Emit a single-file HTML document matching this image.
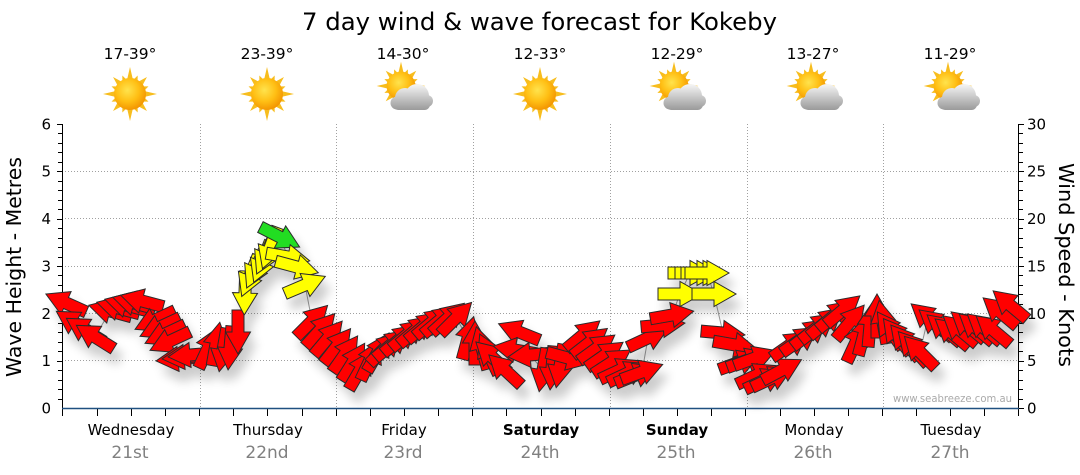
<!DOCTYPE html>
<html><head><meta charset="utf-8"><style>html,body{margin:0;padding:0;background:#fff;}svg{display:block;}</style></head>
<body>
<svg width="1080" height="475" viewBox="0 0 1080 475" xmlns="http://www.w3.org/2000/svg" font-family="'DejaVu Sans', Verdana, sans-serif">
<defs>
 <radialGradient id="sung" cx="0.42" cy="0.38" r="0.65"><stop offset="0" stop-color="#ffe34d"/><stop offset="0.55" stop-color="#ffbf14"/><stop offset="1" stop-color="#f29200"/></radialGradient>
 <linearGradient id="cloudg" gradientUnits="userSpaceOnUse" x1="0" y1="-2" x2="0" y2="24"><stop offset="0" stop-color="#f6f6f6"/><stop offset="1" stop-color="#9a9a9a"/></linearGradient>
 <g id="rays" fill="#f7bd1e">
  <polygon points="-3,-14 0,-27 3,-14"/>
  <polygon points="-2.5,-14 0,-20 2.5,-14" transform="rotate(22.5)"/>
  <polygon points="-3,-14 0,-24 3,-14" transform="rotate(45)"/>
  <polygon points="-2.5,-14 0,-20 2.5,-14" transform="rotate(67.5)"/>
  <polygon points="-3,-14 0,-27 3,-14" transform="rotate(90)"/>
  <polygon points="-2.5,-14 0,-20 2.5,-14" transform="rotate(112.5)"/>
  <polygon points="-3,-14 0,-24 3,-14" transform="rotate(135)"/>
  <polygon points="-2.5,-14 0,-20 2.5,-14" transform="rotate(157.5)"/>
  <polygon points="-3,-14 0,-27 3,-14" transform="rotate(180)"/>
  <polygon points="-2.5,-14 0,-20 2.5,-14" transform="rotate(202.5)"/>
  <polygon points="-3,-14 0,-24 3,-14" transform="rotate(225)"/>
  <polygon points="-2.5,-14 0,-20 2.5,-14" transform="rotate(247.5)"/>
  <polygon points="-3,-14 0,-27 3,-14" transform="rotate(270)"/>
  <polygon points="-2.5,-14 0,-20 2.5,-14" transform="rotate(292.5)"/>
  <polygon points="-3,-14 0,-24 3,-14" transform="rotate(315)"/>
  <polygon points="-2.5,-14 0,-20 2.5,-14" transform="rotate(337.5)"/>
 </g>
 <g id="sun"><use href="#rays"/><circle r="16" fill="url(#sung)"/></g>
 <g id="pc">
  <g transform="translate(-3,0) scale(0.9)"><use href="#sun"/></g>
  <g fill="url(#cloudg)">
   <circle cx="-7" cy="17" r="6.5"/>
   <circle cx="1" cy="12" r="10"/>
   <circle cx="13" cy="10" r="12"/>
   <circle cx="23" cy="15" r="6"/>
   <rect x="-11" y="13" width="37" height="11" rx="5.5"/>
  </g>
 </g>
 <polygon id="ar" points="-22,-6 0,-6 0,-12.5 22,0 0,12.5 0,6 -22,6" stroke="#2a2a2a" stroke-width="1"/>
 <filter id="sh" filterUnits="userSpaceOnUse" x="0" y="0" width="1080" height="475">
  <feGaussianBlur in="SourceAlpha" stdDeviation="5"/>
  <feOffset dx="6" dy="11"/>
  <feComponentTransfer><feFuncA type="linear" slope="0.2"/></feComponentTransfer>
  <feMerge><feMergeNode/><feMergeNode in="SourceGraphic"/></feMerge>
 </filter>
</defs>

<!-- Title -->
<text x="302" y="30" font-size="24" textLength="475" lengthAdjust="spacingAndGlyphs" fill="#000">7 day wind &amp; wave forecast for Kokeby</text>

<!-- Temps -->
<g font-size="15.5" text-anchor="middle" fill="#000">
 <text x="130" y="59">17-39°</text>
 <text x="267" y="59">23-39°</text>
 <text x="403" y="59">14-30°</text>
 <text x="540" y="59">12-33°</text>
 <text x="677" y="59">12-29°</text>
 <text x="813" y="59">13-27°</text>
 <text x="950" y="59">11-29°</text>
</g>

<!-- Icons -->
<use href="#sun" transform="translate(130,94)"/>
<use href="#sun" transform="translate(267,94)"/>
<use href="#pc" transform="translate(404,86)"/>
<use href="#sun" transform="translate(540,94)"/>
<use href="#pc" transform="translate(677,86)"/>
<use href="#pc" transform="translate(814,86)"/>
<use href="#pc" transform="translate(951,86)"/>

<!-- Grid -->
<g stroke="#a0a0a0" stroke-width="1" stroke-dasharray="1,2" fill="none">
 <path d="M62 171.5H1019M62 218.5H1019M62 266.5H1019M62 313.5H1019M62 360.5H1019"/>
 <path d="M200.5 124V408M336.5 124V408M473.5 124V408M610.5 124V408M747.5 124V408M883.5 124V408"/>
</g>

<!-- Axes -->
<g stroke="#000" stroke-width="1" fill="none">
 <path d="M62.5 124V416M1018.5 124V408"/>
 <path d="M57 124.5h5M58 133.5h4M58 143.5h4M58 152.5h4M58 162.5h4M57 171.5h5M58 181.5h4M58 190.5h4M58 200.5h4M58 209.5h4M57 219.5h5M58 228.5h4M58 238.5h4M58 247.5h4M58 257.5h4M57 266.5h5M58 275.5h4M58 285.5h4M58 294.5h4M58 304.5h4M57 313.5h5M58 323.5h4M58 332.5h4M58 342.5h4M58 351.5h4M57 361.5h5M58 370.5h4M58 380.5h4M58 389.5h4M58 399.5h4"/>
 <path d="M1019 124.5h5M1019 133.5h4M1019 143.5h4M1019 152.5h4M1019 162.5h4M1019 171.5h5M1019 181.5h4M1019 190.5h4M1019 200.5h4M1019 209.5h4M1019 219.5h5M1019 228.5h4M1019 238.5h4M1019 247.5h4M1019 257.5h4M1019 266.5h5M1019 275.5h4M1019 285.5h4M1019 294.5h4M1019 304.5h4M1019 313.5h5M1019 323.5h4M1019 332.5h4M1019 342.5h4M1019 351.5h4M1019 361.5h5M1019 370.5h4M1019 380.5h4M1019 389.5h4M1019 399.5h4M1019 408.5h5"/>
 <path d="M97.5 408v8M131.5 408v8M165.5 408v8M199.5 408v8M233.5 408v8M267.5 408v8M302.5 408v8M336.5 408v8M370.5 408v8M404.5 408v8M438.5 408v8M472.5 408v8M506.5 408v8M541.5 408v8M575.5 408v8M609.5 408v8M643.5 408v8M677.5 408v8M711.5 408v8M745.5 408v8M780.5 408v8M814.5 408v8M848.5 408v8M882.5 408v8M916.5 408v8M950.5 408v8M984.5 408v8M1018.5 408v8"/>
</g>
<path d="M62 408.5H1019" stroke="#1f5080" stroke-width="1.5"/>

<!-- Axis labels -->
<g font-size="15" fill="#000" text-anchor="end">
 <text x="51" y="129.5">6</text><text x="51" y="176.5">5</text><text x="51" y="224">4</text><text x="51" y="271.5">3</text><text x="51" y="319">2</text><text x="51" y="366">1</text><text x="51" y="413.5">0</text>
</g>
<g font-size="15" fill="#000" text-anchor="start">
 <text x="1027" y="129.5">30</text><text x="1027" y="176.5">25</text><text x="1027" y="224">20</text><text x="1027" y="271.5">15</text><text x="1027" y="319">10</text><text x="1027" y="366">5</text><text x="1027" y="413.5">0</text>
</g>
<text transform="translate(21,377) rotate(-90)" font-size="20" textLength="220" lengthAdjust="spacingAndGlyphs" fill="#000">Wave Height - Metres</text>
<text transform="translate(1059,163) rotate(90)" font-size="20" textLength="204" lengthAdjust="spacingAndGlyphs" fill="#000">Wind Speed - Knots</text>

<!-- Day labels -->
<g font-size="15" text-anchor="middle" fill="#000">
 <text x="131" y="435">Wednesday</text>
 <text x="268" y="435">Thursday</text>
 <text x="404" y="435">Friday</text>
 <text x="541" y="435" font-weight="bold">Saturday</text>
 <text x="677" y="435" font-weight="bold">Sunday</text>
 <text x="814" y="435">Monday</text>
 <text x="951" y="435">Tuesday</text>
</g>
<g font-size="17" text-anchor="middle" fill="#808080">
 <text x="130" y="458">21st</text>
 <text x="267" y="458">22nd</text>
 <text x="403" y="458">23rd</text>
 <text x="540" y="458">24th</text>
 <text x="676" y="458">25th</text>
 <text x="813" y="458">26th</text>
 <text x="950" y="458">27th</text>
</g>

<text x="893" y="402" font-size="10.5" fill="#aaaaaa" textLength="119" lengthAdjust="spacingAndGlyphs">www.seabreeze.com.au</text>

<!-- connecting line -->
<polyline fill="none" stroke="#999" stroke-width="1" points="66,303 75,323 85,330 95,337 110,311 118,308 126,305 134,303 142,301 155,320 160,327 165,334 170,341 178,359 184,357 190,355 208,348 216,344 223,350 230,348 238,332 245,293 250,276 256,268 262,262 266,254 270,248 280,237 288,257 297,267 305,285 312,321 320,330 328,338 337,346 345,354 353,362 360,370 370,360 378,352 385,348 392,344 400,339 408,334 416,330 424,326 432,322 440,320 448,318 456,318 468,338 475,343 482,348 489,354 492,357 505,370 519,332 515,350 530,355 543,370 552,368 560,366 568,358 583,335 590,342 597,348 605,355 612,362 620,370 628,373 636,375 642,372 648,338 663,325 672,315 680,294 690,273 697,273 703,273 707,273 714,294 723,333 735,345 740,362 748,360 755,358 757,375 765,380 772,378 782,370 790,345 800,340 810,333 818,327 826,322 835,315 843,310 850,322 856,342 864,334 870,325 877,316 883,322 890,330 897,336 905,342 913,348 920,352 928,318 936,324 944,329 952,333 960,330 968,326 976,328 984,328 993,330 1000,312 1010,305"/>

<!-- Arrows -->
<g filter="url(#sh)">
 <use href="#ar" fill="#f00" transform="translate(66 303) rotate(-156)"/>
 <use href="#ar" fill="#f00" transform="translate(75 323) rotate(-148)"/>
 <use href="#ar" fill="#f00" transform="translate(85 330) rotate(-148)"/>
 <use href="#ar" fill="#f00" transform="translate(95 337) rotate(-148)"/>
 <use href="#ar" fill="#f00" transform="translate(110 311) rotate(-165)"/>
 <use href="#ar" fill="#f00" transform="translate(118 308) rotate(-165)"/>
 <use href="#ar" fill="#f00" transform="translate(126 305) rotate(-165)"/>
 <use href="#ar" fill="#f00" transform="translate(134 303) rotate(-165)"/>
 <use href="#ar" fill="#f00" transform="translate(142 301) rotate(-165)"/>
 <use href="#ar" fill="#f00" transform="translate(155 320) rotate(155)"/>
 <use href="#ar" fill="#f00" transform="translate(160 327) rotate(155)"/>
 <use href="#ar" fill="#f00" transform="translate(165 334) rotate(155)"/>
 <use href="#ar" fill="#f00" transform="translate(170 341) rotate(155)"/>
 <use href="#ar" fill="#f00" transform="translate(178 359) rotate(175)"/>
 <use href="#ar" fill="#f00" transform="translate(184 357) rotate(175)"/>
 <use href="#ar" fill="#f00" transform="translate(190 355) rotate(175)"/>
 <use href="#ar" fill="#f00" transform="translate(208 348) rotate(-65)"/>
 <use href="#ar" fill="#f00" transform="translate(216 344) rotate(-80)"/>
 <use href="#ar" fill="#f00" transform="translate(223 350) rotate(100)"/>
 <use href="#ar" fill="#f00" transform="translate(230 348) rotate(95)"/>
 <use href="#ar" fill="#f00" transform="translate(238 332) rotate(90)"/>
 <use href="#ar" fill="#ff0" transform="translate(245 293) rotate(92)"/>
 <use href="#ar" fill="#ff0" transform="translate(250 276) rotate(112)"/>
 <use href="#ar" fill="#ff0" transform="translate(256 268) rotate(115)"/>
 <use href="#ar" fill="#ff0" transform="translate(262 262) rotate(112)"/>
 <use href="#ar" fill="#ff0" transform="translate(266 254) rotate(115)"/>
 <use href="#ar" fill="#ff0" transform="translate(270 248) rotate(110)"/>
 <use href="#ar" fill="#22dd22" transform="translate(280 237) rotate(27)"/>
 <use href="#ar" fill="#ff0" transform="translate(288 257) rotate(10)"/>
 <use href="#ar" fill="#ff0" transform="translate(297 267) rotate(15)"/>
 <use href="#ar" fill="#ff0" transform="translate(305 285) rotate(-23)"/>
 <use href="#ar" fill="#f00" transform="translate(312 321) rotate(-45)"/>
 <use href="#ar" fill="#f00" transform="translate(320 330) rotate(-48)"/>
 <use href="#ar" fill="#f00" transform="translate(328 338) rotate(-50)"/>
 <use href="#ar" fill="#f00" transform="translate(337 346) rotate(-52)"/>
 <use href="#ar" fill="#f00" transform="translate(345 354) rotate(-55)"/>
 <use href="#ar" fill="#f00" transform="translate(353 362) rotate(-58)"/>
 <use href="#ar" fill="#f00" transform="translate(360 370) rotate(-60)"/>
 <use href="#ar" fill="#f00" transform="translate(370 360) rotate(-65)"/>
 <use href="#ar" fill="#f00" transform="translate(378 352) rotate(-60)"/>
 <use href="#ar" fill="#f00" transform="translate(385 348) rotate(-45)"/>
 <use href="#ar" fill="#f00" transform="translate(392 344) rotate(-40)"/>
 <use href="#ar" fill="#f00" transform="translate(400 339) rotate(-40)"/>
 <use href="#ar" fill="#f00" transform="translate(408 334) rotate(-40)"/>
 <use href="#ar" fill="#f00" transform="translate(416 330) rotate(-40)"/>
 <use href="#ar" fill="#f00" transform="translate(424 326) rotate(-40)"/>
 <use href="#ar" fill="#f00" transform="translate(432 322) rotate(-40)"/>
 <use href="#ar" fill="#f00" transform="translate(440 320) rotate(-40)"/>
 <use href="#ar" fill="#f00" transform="translate(448 318) rotate(-42)"/>
 <use href="#ar" fill="#f00" transform="translate(456 318) rotate(-45)"/>
 <use href="#ar" fill="#f00" transform="translate(468 338) rotate(-75)"/>
 <use href="#ar" fill="#f00" transform="translate(475 343) rotate(-90)"/>
 <use href="#ar" fill="#f00" transform="translate(482 348) rotate(-105)"/>
 <use href="#ar" fill="#f00" transform="translate(489 354) rotate(-115)"/>
 <use href="#ar" fill="#f00" transform="translate(492 357) rotate(-137)"/>
 <use href="#ar" fill="#f00" transform="translate(505 370) rotate(-137)"/>
 <use href="#ar" fill="#f00" transform="translate(519 332) rotate(-158)"/>
 <use href="#ar" fill="#f00" transform="translate(515 350) rotate(-170)"/>
 <use href="#ar" fill="#f00" transform="translate(530 355) rotate(175)"/>
 <use href="#ar" fill="#f00" transform="translate(543 370) rotate(100)"/>
 <use href="#ar" fill="#f00" transform="translate(552 368) rotate(95)"/>
 <use href="#ar" fill="#f00" transform="translate(560 366) rotate(100)"/>
 <use href="#ar" fill="#f00" transform="translate(568 358) rotate(15)"/>
 <use href="#ar" fill="#f00" transform="translate(583 335) rotate(-40)"/>
 <use href="#ar" fill="#f00" transform="translate(590 342) rotate(-38)"/>
 <use href="#ar" fill="#f00" transform="translate(597 348) rotate(-36)"/>
 <use href="#ar" fill="#f00" transform="translate(605 355) rotate(-35)"/>
 <use href="#ar" fill="#f00" transform="translate(612 362) rotate(-33)"/>
 <use href="#ar" fill="#f00" transform="translate(620 370) rotate(-25)"/>
 <use href="#ar" fill="#f00" transform="translate(628 373) rotate(-25)"/>
 <use href="#ar" fill="#f00" transform="translate(636 375) rotate(-22)"/>
 <use href="#ar" fill="#f00" transform="translate(642 372) rotate(-20)"/>
 <use href="#ar" fill="#f00" transform="translate(648 338) rotate(-25)"/>
 <use href="#ar" fill="#f00" transform="translate(663 325) rotate(-5)"/>
 <use href="#ar" fill="#f00" transform="translate(672 315) rotate(-10)"/>
 <use href="#ar" fill="#ff0" transform="translate(680 294) rotate(0)"/>
 <use href="#ar" fill="#ff0" transform="translate(690 273) rotate(0)"/>
 <use href="#ar" fill="#ff0" transform="translate(697 273) rotate(0)"/>
 <use href="#ar" fill="#ff0" transform="translate(703 273) rotate(0)"/>
 <use href="#ar" fill="#ff0" transform="translate(707 273) rotate(0)"/>
 <use href="#ar" fill="#ff0" transform="translate(714 294) rotate(0)"/>
 <use href="#ar" fill="#f00" transform="translate(723 333) rotate(5)"/>
 <use href="#ar" fill="#f00" transform="translate(735 345) rotate(10)"/>
 <use href="#ar" fill="#f00" transform="translate(740 362) rotate(-20)"/>
 <use href="#ar" fill="#f00" transform="translate(748 360) rotate(-20)"/>
 <use href="#ar" fill="#f00" transform="translate(755 358) rotate(-20)"/>
 <use href="#ar" fill="#f00" transform="translate(757 375) rotate(-25)"/>
 <use href="#ar" fill="#f00" transform="translate(765 380) rotate(-25)"/>
 <use href="#ar" fill="#f00" transform="translate(772 378) rotate(-25)"/>
 <use href="#ar" fill="#f00" transform="translate(782 370) rotate(-28)"/>
 <use href="#ar" fill="#f00" transform="translate(790 345) rotate(-35)"/>
 <use href="#ar" fill="#f00" transform="translate(800 340) rotate(-35)"/>
 <use href="#ar" fill="#f00" transform="translate(810 333) rotate(-38)"/>
 <use href="#ar" fill="#f00" transform="translate(818 327) rotate(-38)"/>
 <use href="#ar" fill="#f00" transform="translate(826 322) rotate(-40)"/>
 <use href="#ar" fill="#f00" transform="translate(835 315) rotate(-40)"/>
 <use href="#ar" fill="#f00" transform="translate(843 310) rotate(-40)"/>
 <use href="#ar" fill="#f00" transform="translate(850 322) rotate(-50)"/>
 <use href="#ar" fill="#f00" transform="translate(856 342) rotate(-65)"/>
 <use href="#ar" fill="#f00" transform="translate(864 334) rotate(-75)"/>
 <use href="#ar" fill="#f00" transform="translate(870 325) rotate(-85)"/>
 <use href="#ar" fill="#f00" transform="translate(877 316) rotate(-90)"/>
 <use href="#ar" fill="#f00" transform="translate(883 322) rotate(-100)"/>
 <use href="#ar" fill="#f00" transform="translate(890 330) rotate(-125)"/>
 <use href="#ar" fill="#f00" transform="translate(897 336) rotate(-128)"/>
 <use href="#ar" fill="#f00" transform="translate(905 342) rotate(-130)"/>
 <use href="#ar" fill="#f00" transform="translate(913 348) rotate(-132)"/>
 <use href="#ar" fill="#f00" transform="translate(920 352) rotate(-135)"/>
 <use href="#ar" fill="#f00" transform="translate(928 318) rotate(-140)"/>
 <use href="#ar" fill="#f00" transform="translate(936 324) rotate(-140)"/>
 <use href="#ar" fill="#f00" transform="translate(944 329) rotate(-140)"/>
 <use href="#ar" fill="#f00" transform="translate(952 333) rotate(-140)"/>
 <use href="#ar" fill="#f00" transform="translate(960 330) rotate(-140)"/>
 <use href="#ar" fill="#f00" transform="translate(968 326) rotate(-140)"/>
 <use href="#ar" fill="#f00" transform="translate(976 328) rotate(-140)"/>
 <use href="#ar" fill="#f00" transform="translate(984 328) rotate(-140)"/>
 <use href="#ar" fill="#f00" transform="translate(993 330) rotate(-140)"/>
 <use href="#ar" fill="#f00" transform="translate(1000 312) rotate(-140)"/>
 <use href="#ar" fill="#f00" transform="translate(1010 305) rotate(-140)"/>
</g>
</svg>
</body></html>
